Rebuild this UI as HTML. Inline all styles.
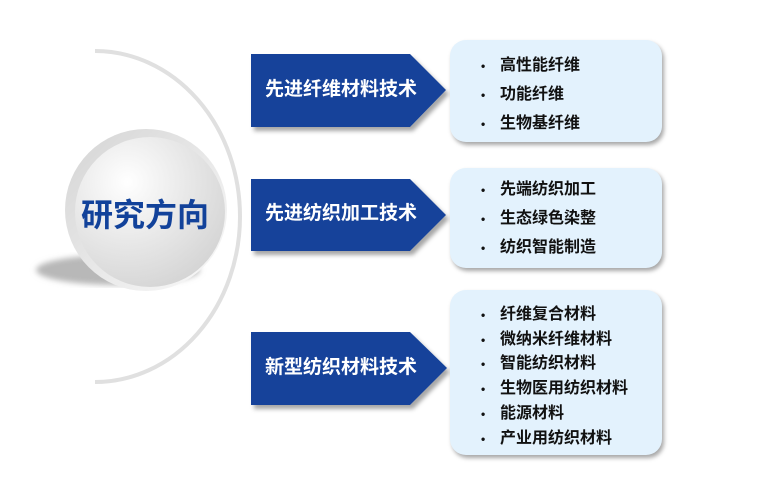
<!DOCTYPE html>
<html><head><meta charset="utf-8"><style>
body{margin:0;width:772px;height:492px;background:#fff;overflow:hidden;position:relative;font-family:"Liberation Sans","Noto Sans CJK SC",sans-serif;}
.box{position:absolute;left:450px;width:212px;background:#e3f2fd;border-radius:16px;box-shadow:2px 3px 4px rgba(0,0,0,0.35);}
.li{position:absolute;left:500px;font-size:16px;font-weight:bold;color:#111;line-height:20px;}
.li:before{content:"•";position:absolute;left:-19px;font-size:12px;}
.lab{position:absolute;left:251px;width:180px;text-align:center;color:#fff;font-weight:bold;font-size:19px;line-height:22px;}
</style></head><body>
<svg width="772" height="492" style="position:absolute;left:0;top:0">
<defs>
<radialGradient id="g" cx="0.35" cy="0.3" r="0.8"><stop offset="0" stop-color="#fff"/><stop offset="0.5" stop-color="#e8e8e8"/><stop offset="1" stop-color="#d2d2d2"/></radialGradient>
<linearGradient id="g2" x1="0" y1="0" x2="1" y2="1"><stop offset="0" stop-color="#d4d4d4"/><stop offset="1" stop-color="#fafafa"/></linearGradient>
<filter id="b"><feGaussianBlur stdDeviation="3"/></filter>
<filter id="s"><feDropShadow dx="3" dy="4" stdDeviation="2" flood-opacity="0.35"/></filter>
</defs>
<path d="M95 51 A145 165.5 0 0 1 95 382" fill="none" stroke="#e0e0e0" stroke-width="4"/>
<ellipse cx="118" cy="270" rx="82" ry="15" fill="#b8b8b8" filter="url(#b)"/>
<circle cx="146" cy="210" r="81" fill="url(#g2)"/>
<circle cx="150" cy="212" r="75" fill="url(#g)"/>
<g fill="#12429a" filter="url(#s)">
<polygon points="251,54 410,54 446,90 410,127 251,127"/>
<polygon points="251,179 410,179 446,215 410,251 251,251"/>
<polygon points="251,332 410,332 447,368 410,405 251,405"/>
</g>
</svg>
<div style="position:absolute;left:81px;top:196px;font-size:32px;font-weight:bold;color:#12429a;line-height:38px">研究方向</div>
<div class="lab" style="top:79px">先进纤维材料技术</div>
<div class="lab" style="top:203px">先进纺织加工技术</div>
<div class="lab" style="top:357px">新型纺织材料技术</div>
<div class="box" style="top:40px;height:102px"></div>
<div class="box" style="top:168px;height:100px"></div>
<div class="box" style="top:290px;height:165px"></div>
<div class="li" style="top:56px">高性能纤维</div>
<div class="li" style="top:85px">功能纤维</div>
<div class="li" style="top:114px">生物基纤维</div>
<div class="li" style="top:180px">先端纺织加工</div>
<div class="li" style="top:209px">生态绿色染整</div>
<div class="li" style="top:238px">纺织智能制造</div>
<div class="li" style="top:305px">纤维复合材料</div>
<div class="li" style="top:330px">微纳米纤维材料</div>
<div class="li" style="top:354px">智能纺织材料</div>
<div class="li" style="top:379px">生物医用纺织材料</div>
<div class="li" style="top:404px">能源材料</div>
<div class="li" style="top:429px">产业用纺织材料</div>
</body></html>
